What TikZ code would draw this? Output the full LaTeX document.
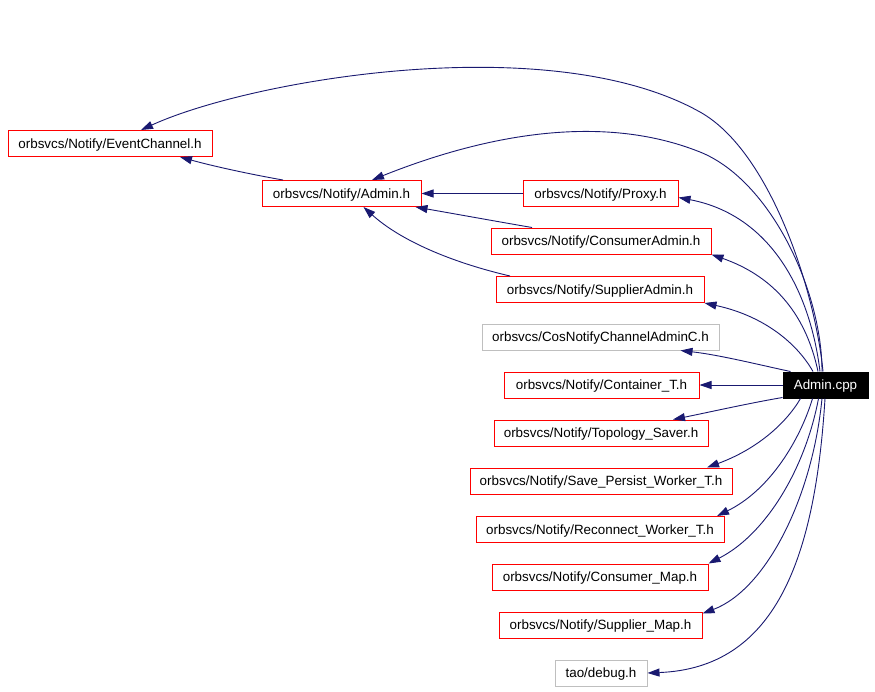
\documentclass[tikz,border=0pt]{standalone}
\usepackage{fontspec}
\setmainfont{Liberation Sans}
\usetikzlibrary{arrows.meta}
\definecolor{edgeblue}{HTML}{191970}
\definecolor{boxgray}{HTML}{BFBFBF}
\begin{document}
\begin{tikzpicture}[x=1pt,y=-1pt,
  box/.style={line width=1pt, minimum height=26pt, inner sep=0pt, text height=9.6pt, text depth=0pt, font=\fontsize{13.4}{15}\selectfont},
  hdr/.style={box, draw=red, text=black},
  ghdr/.style={box, draw=boxgray, text=black},
  src/.style={box, draw=black, fill=black, text=white},
  edge/.style={draw=edgeblue, line width=0.9pt, -{Triangle[length=12pt,width=8pt]}, fill=none},
]
\useasboundingbox (0,0) rectangle (875,691);
\fill[white] (0,0) rectangle (875,691);

\node[hdr, minimum width=204pt] (EC) at (110,143.5) {orbsvcs/Notify/EventChannel.h};
\node[hdr, minimum width=159pt] (AH) at (341.5,193.5) {orbsvcs/Notify/Admin.h};
\node[hdr, minimum width=155pt] (Proxy) at (600.5,193.5) {orbsvcs/Notify/Proxy.h};
\node[hdr, minimum width=220pt] (CA) at (601,241) {orbsvcs/Notify/ConsumerAdmin.h};
\node[hdr, minimum width=208pt] (SA) at (600,289.5) {orbsvcs/Notify/SupplierAdmin.h};
\node[ghdr, minimum width=237pt] (Cos) at (600.5,337) {orbsvcs/CosNotifyChannelAdminC.h};
\node[hdr, minimum width=195pt] (Cont) at (601.5,385) {orbsvcs/Notify/Container\_T.h};
\node[src, minimum width=85pt] (cpp) at (825.5,385) {Admin.cpp};
\node[hdr, minimum width=214pt] (Topo) at (601,433) {orbsvcs/Notify/Topology\_Saver.h};
\node[hdr, minimum width=262pt] (SPW) at (601,481) {orbsvcs/Notify/Save\_Persist\_Worker\_T.h};
\node[hdr, minimum width=248pt] (RW) at (600,529.5) {orbsvcs/Notify/Reconnect\_Worker\_T.h};
\node[hdr, minimum width=216pt] (CM) at (600,577) {orbsvcs/Notify/Consumer\_Map.h};
\node[hdr, minimum width=203pt] (SM) at (600.5,625) {orbsvcs/Notify/Supplier\_Map.h};
\node[ghdr, minimum width=92pt] (dbg) at (601,673) {tao/debug.h};

% Admin.cpp -> headers
\draw[edge] ([xshift=-2.5pt]cpp.north) .. controls (815,290) and (770,151) .. (700,112)
  .. controls (550,28) and (250,80) .. ([xshift=31pt]EC.north);
\draw[edge] ([xshift=-3.5pt]cpp.north) .. controls (822,290) and (770,180) .. (700,152)
  .. controls (600,112) and (482,136) .. ([xshift=30.5pt]AH.north);
\draw[edge] ([xshift=-5.5pt]cpp.north) .. controls (810,290) and (770,215) .. ([yshift=-4pt]Proxy.east);
\draw[edge] ([xshift=-7.5pt]cpp.north) .. controls (805,310) and (770,275) .. (CA.south east);
\draw[edge] ([xshift=-12.5pt]cpp.north) .. controls (795,340) and (760,315) .. (SA.south east);
\draw[edge] ([xshift=-35pt]cpp.north) .. controls (760,365) and (720,355) .. ([xshift=80pt]Cos.south);
\draw[edge] (cpp.west) -- (Cont.east);
\draw[edge] ([yshift=1pt]cpp.south west) .. controls (750,403) and (710,412) .. ([xshift=72pt]Topo.north);
\draw[edge] ([xshift=-25pt]cpp.south) .. controls (785,425) and (755,450) .. ([xshift=106pt]SPW.north);
\draw[edge] ([xshift=-13pt]cpp.south) .. controls (800,440) and (770,490) .. ([xshift=117pt]RW.north);
\draw[edge] ([xshift=-7pt]cpp.south) .. controls (805,470) and (765,535) .. (CM.north east);
\draw[edge] ([xshift=-3.5pt]cpp.south) .. controls (812,500) and (765,590) .. ([yshift=-2pt]SM.north east);
\draw[edge] ([xshift=-0.5pt]cpp.south) .. controls (815,560) and (775,668) .. (dbg.east);

% header -> header
\draw[edge] ([xshift=-58.5pt]AH.north) .. controls (260,176) and (220,168) .. ([xshift=70pt]EC.south);
\draw[edge] (Proxy.west) -- (AH.east);
\draw[edge] ([xshift=-69pt]CA.north) .. controls (500,222) and (450,213) .. ([xshift=-6pt]AH.south east);
\draw[edge] ([xshift=-90pt]SA.north) .. controls (450,262) and (400,240) .. ([xshift=22pt]AH.south);
\end{tikzpicture}
\end{document}
